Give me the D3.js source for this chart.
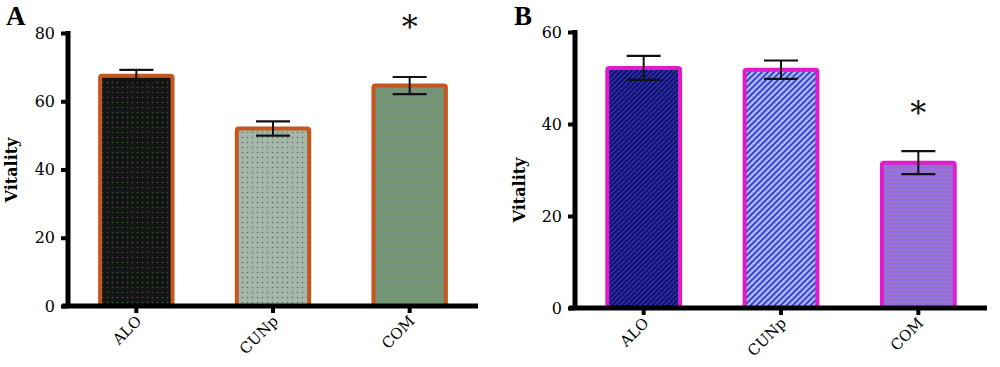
<!DOCTYPE html>
<html><head><meta charset="utf-8">
<script src="https://cdn.jsdelivr.net/npm/d3@7"></script>
<style>body{margin:0;background:#fff}svg{display:block}</style>
</head><body>
<script>
const categories = ["ALO", "CUNp", "COM"];
const meansA = [67.5, 52.0, 64.6];
const errsA = [1.7, 2.1, 2.5];
const meansB = [52.2, 51.8, 31.6];
const errsB = [2.6, 2.0, 2.5];
const ticksA = [0, 20, 40, 60, 80];
const ticksB = [0, 20, 40, 60];
const sigA = [false, false, true];
const sigB = [false, false, true];

const W = 1000, H = 367;
const svg = d3.select("body").append("svg").attr("width", W).attr("height", H);
const defs = svg.append("defs");

function dotPattern(id, bg, dot, size, r) {
  const p = defs.append("pattern").attr("id", id).attr("patternUnits", "userSpaceOnUse")
    .attr("width", size).attr("height", size);
  p.append("rect").attr("width", size).attr("height", size).attr("fill", bg);
  p.append("circle").attr("cx", size/2).attr("cy", size/2).attr("r", r).attr("fill", dot);
}
function hatchPattern(id, bg, line, size, w) {
  const p = defs.append("pattern").attr("id", id).attr("patternUnits", "userSpaceOnUse")
    .attr("width", size).attr("height", size);
  p.append("rect").attr("width", size).attr("height", size).attr("fill", bg);
  p.append("path").attr("d", `M0,${size} L${size},0 M${-size/2},${size/2} L${size/2},${-size/2} M${size/2},${size*1.5} L${size*1.5},${size/2}`)
    .attr("stroke", line).attr("stroke-width", w);
}
dotPattern("pA0", "#141414", "#2f6a2a", 5, 0.8);
dotPattern("pA1", "#a7b6ad", "#4c7a4a", 5, 0.8);
dotPattern("pA2", "#7a8e80", "#5eb04a", 4, 1.0);
hatchPattern("pB0", "#12124a", "#2a2ac8", 5, 1.6);
hatchPattern("pB1", "#a9b4ee", "#2d3ad0", 6, 1.6);
dotPattern("pB2", "#9a6ae6", "#8a8a9a", 4, 1.1);

const serif = "'DejaVu Serif', 'Liberation Serif', serif";

function panel(cfg) {
  const g = svg.append("g");
  const x = d3.scaleBand().domain(categories).range([cfg.x0, cfg.x1]).paddingInner(0.47).paddingOuter(0.235);
  const y = d3.scaleLinear().domain([0, cfg.max]).range([cfg.y0, cfg.y1]);

  g.selectAll("rect.bar").data(cfg.means).join("rect")
    .attr("class", "bar")
    .attr("x", (d, i) => x(categories[i]))
    .attr("y", d => y(d))
    .attr("width", x.bandwidth())
    .attr("height", d => y(0) - y(d))
    .attr("fill", (d, i) => `url(#${cfg.pat}${i})`)
    .attr("stroke", cfg.stroke).attr("stroke-width", 4).attr("rx", 2);

  const cap = 17;
  cfg.means.forEach((m, i) => {
    const cx = x(categories[i]) + x.bandwidth()/2;
    const e = cfg.errs[i];
    g.append("line").attr("x1", cx).attr("x2", cx).attr("y1", y(m + e)).attr("y2", y(m - e))
      .attr("stroke", "#111").attr("stroke-width", 2);
    [m + e, m - e].forEach(v => g.append("line").attr("x1", cx - cap).attr("x2", cx + cap)
      .attr("y1", y(v)).attr("y2", y(v)).attr("stroke", "#111").attr("stroke-width", 2.2));
    if (cfg.sig[i]) {
      g.append("text").attr("x", cx).attr("y", cfg.starY).attr("text-anchor", "middle")
        .attr("font-family", serif).attr("font-size", 32).attr("fill", "#111").text("*");
    }
  });

  g.append("path")
    .attr("d", `M${cfg.x0},${cfg.y1 - 2}V${cfg.y0}H${cfg.x1}M${cfg.x0 - 6},${cfg.y0}H${cfg.x0}`)
    .attr("fill", "none").attr("stroke", "#000").attr("stroke-width", 5);

  const ya = g.append("g").attr("transform", `translate(${cfg.x0},0)`)
    .call(d3.axisLeft(y).tickValues(cfg.ticks).tickSize(7).tickPadding(6));
  ya.select(".domain").remove();
  ya.selectAll(".tick line").attr("stroke", "#000").attr("stroke-width", 4);
  ya.selectAll(".tick text").attr("font-family", serif).attr("font-size", 16).attr("fill", "#000");

  const xa = g.append("g").attr("transform", `translate(0,${cfg.y0})`)
    .call(d3.axisBottom(x).tickSize(7).tickSizeOuter(0));
  xa.select(".domain").remove();
  xa.selectAll(".tick line").attr("stroke", "#000").attr("stroke-width", 4);
  xa.selectAll(".tick text").attr("font-family", serif).attr("font-size", 15).attr("fill", "#000")
    .attr("text-anchor", "end").attr("dy", 0).attr("dx", 0).attr("y", 0)
    .attr("transform", "translate(6,16) rotate(-45)");

  g.append("text").attr("transform", `translate(${cfg.labX},${cfg.labY}) rotate(-90)`)
    .attr("text-anchor", "middle").attr("font-family", serif).attr("font-weight", "bold")
    .attr("font-size", 16).attr("fill", "#000").text("Vitality");

  g.append("text").attr("x", cfg.letX).attr("y", cfg.letY).attr("font-family", "'Liberation Serif', serif")
    .attr("font-weight", "bold").attr("font-size", 27).attr("fill", "#000").text(cfg.letter);
}

panel({x0: 68, x1: 478, y0: 306, y1: 33, max: 80, means: meansA, errs: errsA, ticks: ticksA,
  pat: "pA", stroke: "#c4571c", sig: sigA, starY: 38, labX: 17, labY: 170, letter: "A", letX: 6, letY: 25});
panel({x0: 575, x1: 987, y0: 308, y1: 32, max: 60, means: meansB, errs: errsB, ticks: ticksB,
  pat: "pB", stroke: "#e21ac8", sig: sigB, starY: 124, labX: 525, labY: 190, letter: "B", letX: 514, letY: 25});
</script>
</body></html>
